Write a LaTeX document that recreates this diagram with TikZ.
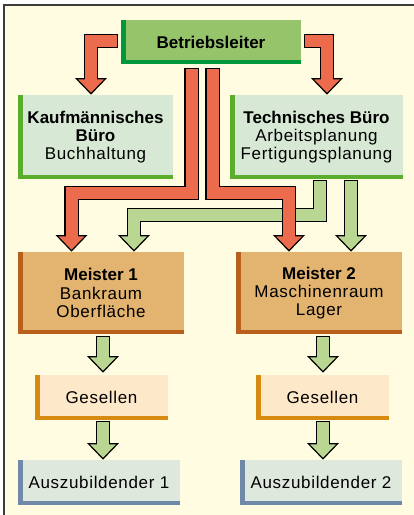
\documentclass[tikz,border=0pt]{standalone}
\usepackage{fontspec}
\setmainfont{Liberation Sans}[LetterSpace=4,BoldFeatures={LetterSpace=0}]
\usepackage{tikz}
\usetikzlibrary{calc}
\definecolor{bgcol}{HTML}{FFFCE2}
\definecolor{framecol}{HTML}{3C3C3C}
\definecolor{redarr}{HTML}{EC6B4C}
\definecolor{greenarr}{HTML}{B9D692}
\definecolor{blfill}{HTML}{96C46A}
\definecolor{blbar}{HTML}{00983A}
\definecolor{bufill}{HTML}{D7E8D5}
\definecolor{bubar}{HTML}{5BAD2E}
\definecolor{mfill}{HTML}{E3B370}
\definecolor{mbar}{HTML}{B9601C}
\definecolor{gfill}{HTML}{FDE8CA}
\definecolor{gbar}{HTML}{D68B10}
\definecolor{afill}{HTML}{DEE8DD}
\definecolor{abar}{HTML}{7189A9}
% fat arrow: colour, shaft path, centre of the head base
\newcommand{\fatarrow}[3]{%
  \draw[line width=14.4pt,black,line join=miter,shorten <=-1.2pt] #2;%
  \filldraw[fill=#1,draw=black,line width=1.2pt,line join=miter]
    ($#3+(-14.5,0)$) -- ($#3+(14.5,0)$) -- ($#3+(0,15)$) -- cycle;%
  \draw[line width=12pt,#1,line join=miter,shorten >=-3pt] #2;%
}

\begin{document}
\begin{tikzpicture}[x=1pt,y=-1pt,
  orgbox/.style 2 args={fill=#1,inner sep=0pt,align=center,
    font=\fontsize{17}{18.3}\selectfont,
    path picture={
      \fill[#2] (path picture bounding box.south west) rectangle ([xshift=4.5pt]path picture bounding box.north west);
      \fill[#2] (path picture bounding box.south west) rectangle ([yshift=4.5pt]path picture bounding box.south east);}}]
  \useasboundingbox (0,0) rectangle (414,515);
  \fill[bgcol] (4,5) rectangle (414,515);
  \draw[framecol,line width=1.8pt] (4,515) -- (4,5) -- (414,5);

  \node[orgbox={blfill}{blbar},minimum width=180pt,minimum height=44pt] (bl) at (211,42) {\textbf{Betriebsleiter}};
  \node[orgbox={bufill}{bubar},minimum width=155pt,minimum height=84pt] (kb) at (95.5,137) {\textbf{Kaufmännisches}\\\textbf{Büro}\\Buchhaltung};
  \node[orgbox={bufill}{bubar},minimum width=173pt,minimum height=84pt] (tb) at (316.5,137) {\textbf{Technisches Büro}\\Arbeitsplanung\\Fertigungsplanung};
  \node[orgbox={mfill}{mbar},minimum width=166pt,minimum height=82pt] (m1) at (101,293) {\textbf{Meister 1}\\Bankraum\\Oberfläche};
  \node[orgbox={mfill}{mbar},minimum width=166pt,minimum height=82pt] (m2) at (319,293) {\textbf{Meister 2}\\Maschinenraum\\Lager};
  \node[orgbox={gfill}{gbar},minimum width=133pt,minimum height=45pt] (g1) at (101.5,397.5) {Gesellen};
  \node[orgbox={gfill}{gbar},minimum width=133pt,minimum height=45pt] (g2) at (322.5,397.5) {Gesellen};
  \node[orgbox={afill}{abar},minimum width=162pt,minimum height=45pt] (a1) at (99,482.5) {Auszubildender 1};
  \node[orgbox={afill}{abar},minimum width=162pt,minimum height=45pt] (a2) at (321,482.5) {Auszubildender 2};

  % green arrows first, the red ones cross over them
  \fatarrow{greenarr}{($(tb.south)+(3.5,2)$) -- ++(0,33.5) -| ($(m1.north)+(33,-16)$)}{($(m1.north)+(33,-16)$)}
  \fatarrow{greenarr}{($(tb.south)+(34.5,2)$) -- ($(m2.north)+(32,-16)$)}{($(m2.north)+(32,-16)$)}
  \fatarrow{greenarr}{($(m1.south)+(2,3)$) -- ($(g1.north)+(1.5,-18)$)}{($(g1.north)+(1.5,-18)$)}
  \fatarrow{greenarr}{($(g1.south)+(1.5,2)$) -- ($(a1.north)+(4,-16)$)}{($(a1.north)+(4,-16)$)}
  \fatarrow{greenarr}{($(m2.south)+(4,3)$) -- ($(g2.north)+(0.5,-18)$)}{($(g2.north)+(0.5,-18)$)}
  \fatarrow{greenarr}{($(g2.south)+(0.5,2)$) -- ($(a2.north)+(2,-16)$)}{($(a2.north)+(2,-16)$)}

  \fatarrow{redarr}{($(bl.west)+(-4,-1)$) -| ($(kb.north)+(-4.5,-16)$)}{($(kb.north)+(-4.5,-16)$)}
  \fatarrow{redarr}{($(bl.east)+(4,-1)$) -| ($(tb.north)+(10.5,-16)$)}{($(tb.north)+(10.5,-16)$)}
  \fatarrow{redarr}{($(bl.south)+(-19.5,5)$) -- ++(0,124) -| ($(m1.north)+(-29.5,-16)$)}{($(m1.north)+(-29.5,-16)$)}
  \fatarrow{redarr}{($(bl.south)+(1.5,5)$) -- ++(0,124) -| ($(m2.north)+(-30,-16)$)}{($(m2.north)+(-30,-16)$)}
\end{tikzpicture}
\end{document}
